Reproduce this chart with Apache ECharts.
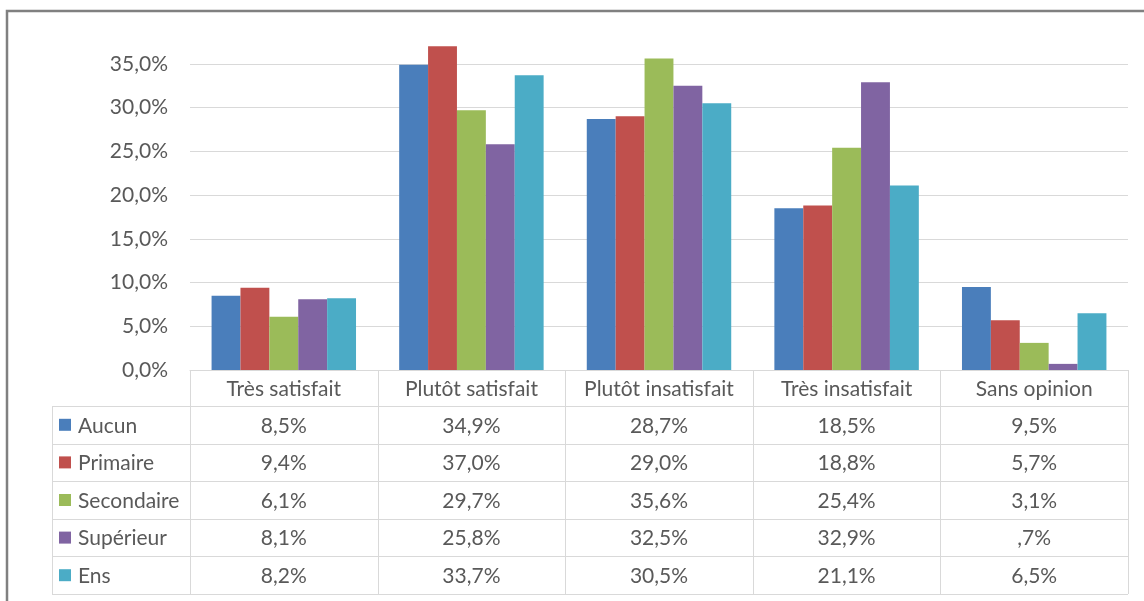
<!DOCTYPE html>
<html>
<head>
<meta charset="utf-8">
<script src="https://cdn.jsdelivr.net/npm/echarts@6/dist/echarts.min.js"></script>
<style>
  html, body { margin: 0; padding: 0; background: #ffffff; }
  #chart { width: 1144px; height: 601px; }
</style>
</head>
<body>
<div id="chart"></div>
<script>
// Satisfaction levels (columns of the table / bar groups)
const categories = ['Très satisfait', 'Plutôt satisfait', 'Plutôt insatisfait', 'Très insatisfait', 'Sans opinion'];
// Education levels (series)
const seriesNames = ['Aucun', 'Primaire', 'Secondaire', 'Supérieur', 'Ens'];
const aucun      = [8.5, 34.9, 28.7, 18.5, 9.5];
const primaire   = [9.4, 37.0, 29.0, 18.8, 5.7];
const secondaire = [6.1, 29.7, 35.6, 25.4, 3.1];
const superieur  = [8.1, 25.8, 32.5, 32.9, 0.7];
const ens        = [8.2, 33.7, 30.5, 21.1, 6.5];
// Value axis range (percent)
const yMin = 0, yMax = 40, yStep = 5;

const seriesValues = [aucun, primaire, secondaire, superieur, ens];
const colors = ['#4A7EBB', '#C0504D', '#9BBB59', '#8064A2', '#4BACC6'];
const textColor = '#595959';
const lineColor = '#d9d9d9';
const fontFamily = 'Lato, "Noto Sans", sans-serif';
const fontSize = 21;

// Axis format: 35,0%
const axisFmt = v => v.toFixed(1).replace('.', ',') + '%';
// Table format drops the leading zero: 0.7 -> ,7%
const cellFmt = v => {
  let s = v.toFixed(1).replace('.', ',');
  if (s.startsWith('0,')) s = s.slice(1);
  return s + '%';
};

const W = 1144, H = 601;
const grid = { left: 190, right: 16, top: 20, bottom: 231 };

const chart = echarts.init(document.getElementById('chart'), null, { renderer: 'canvas' });

chart.setOption({
  animation: false,
  backgroundColor: '#ffffff',
  color: colors,
  grid: grid,
  xAxis: {
    type: 'category',
    data: categories,
    axisLine: { show: true, lineStyle: { color: lineColor, width: 1 } },
    axisTick: { show: false },
    axisLabel: { show: false },
    splitLine: { show: false }
  },
  yAxis: {
    type: 'value',
    min: yMin,
    max: yMax,
    interval: yStep,
    axisLine: { show: false },
    axisTick: { show: false },
    axisLabel: {
      showMaxLabel: false,
      color: textColor,
      fontFamily: fontFamily,
      fontSize: fontSize,
      margin: 22,
      formatter: axisFmt
    },
    splitLine: { show: true, showMaxLine: false, showMinLine: false, lineStyle: { color: lineColor, width: 1 } }
  },
  series: seriesNames.map((name, i) => ({
    name: name,
    type: 'bar',
    data: seriesValues[i],
    barGap: '0%',
    barCategoryGap: '23%',
    itemStyle: { color: colors[i] }
  }))
});

// Data table under the plot, laid out from the grid geometry
function buildTable() {
  const x0 = grid.left;
  const x1 = W - grid.right;
  const y0 = chart.convertToPixel({ yAxisIndex: 0 }, 0);
  const colW = (x1 - x0) / categories.length;
  const headerH = 36;
  const rowH = 37.6;
  const legendX = x0 - 138;
  const yEnd = y0 + headerH + rowH * seriesNames.length;
  const els = [];
  const line = (xa, ya, xb, yb) => els.push({
    type: 'line', silent: true,
    shape: { x1: xa, y1: ya, x2: xb, y2: yb },
    style: { stroke: lineColor, lineWidth: 1 }
  });
  const text = (x, y, str, align) => els.push({
    type: 'text', silent: true, x: x, y: y,
    style: { text: str, fill: textColor, font: fontSize + 'px ' + fontFamily, align: align, verticalAlign: 'middle' }
  });

  // horizontal rules
  for (let r = 0; r <= seriesNames.length; r++) {
    const y = Math.round(y0 + headerH + r * rowH) + 0.5;
    line(legendX, y, x1, y);
  }
  // vertical rules
  for (let c = 0; c <= categories.length; c++) {
    const x = Math.round(x0 + c * colW) + 0.5;
    line(x, y0, x, yEnd);
  }
  line(legendX + 0.5, y0 + headerH, legendX + 0.5, yEnd);

  // header
  categories.forEach((cat, c) => text(x0 + (c + 0.5) * colW, y0 + headerH / 2 + 1, cat, 'center'));

  // rows
  seriesNames.forEach((name, r) => {
    const cy = y0 + headerH + (r + 0.5) * rowH;
    els.push({
      type: 'rect', silent: true,
      shape: { x: legendX + 7, y: cy - 6, width: 12, height: 12 },
      style: { fill: colors[r] }
    });
    text(legendX + 26, cy + 1, name, 'left');
    seriesValues[r].forEach((v, c) => text(x0 + (c + 0.5) * colW, cy + 1, cellFmt(v), 'center'));
  });

  // outer chart frame
  els.push({
    type: 'rect', silent: true,
    shape: { x: 7, y: 11, width: W + 20, height: H + 20 },
    style: { fill: 'none', stroke: '#808080', lineWidth: 2.5 }
  });

  chart.setOption({ graphic: { elements: els } });
}
buildTable();
</script>
</body>
</html>
